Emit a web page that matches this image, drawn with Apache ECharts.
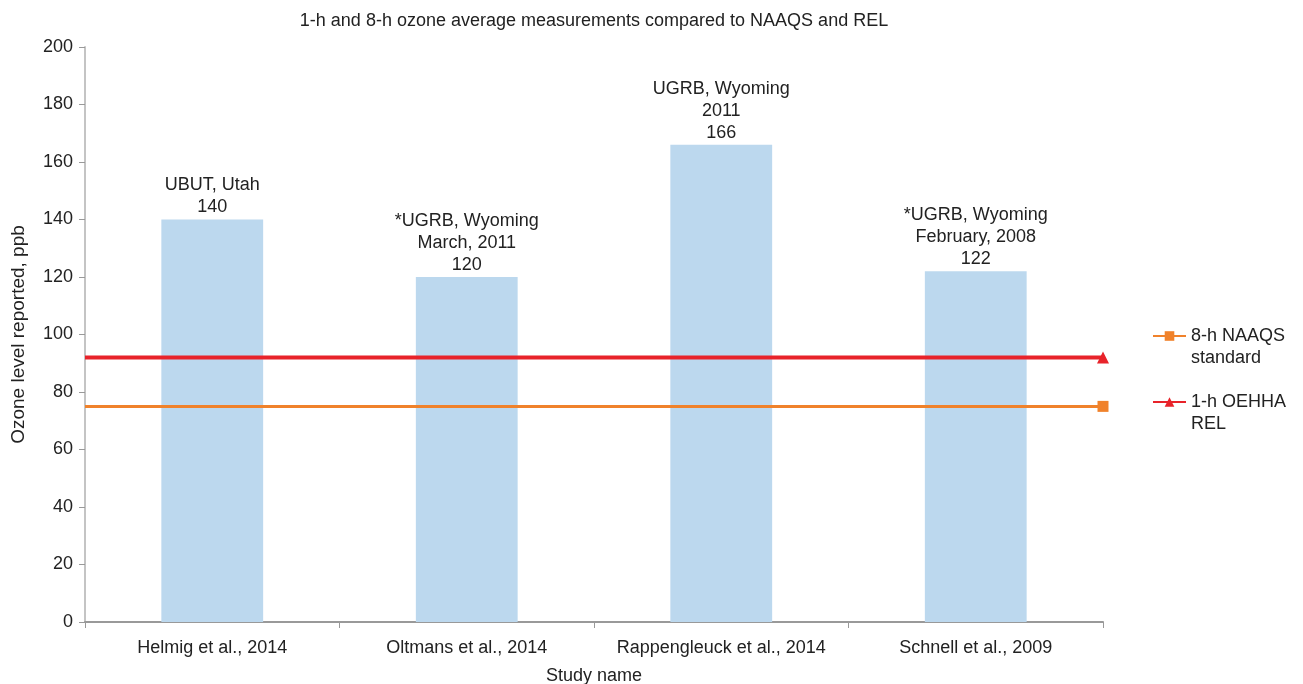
<!DOCTYPE html>
<html><head><meta charset="utf-8">
<script src="https://cdn.jsdelivr.net/npm/echarts@6/dist/echarts.min.js"></script>
<style>html,body{margin:0;padding:0;background:#fff}#c{width:1303px;height:684px}</style>
</head><body><div id="c"></div>
<script>
const categories = ["Helmig et al., 2014", "Oltmans et al., 2014", "Rappengleuck et al., 2014", "Schnell et al., 2009"];
const values = [140, 120, 166, 122];
const siteLabels = ["UBUT, Utah", "*UGRB, Wyoming\nMarch, 2011", "UGRB, Wyoming\n2011", "*UGRB, Wyoming\nFebruary, 2008"];
const naaqs8h = 75;
const oehha1h = 92;
const yTicks = [0, 20, 40, 60, 80, 100, 120, 140, 160, 180, 200];

const font = "Liberation Sans, Arial, sans-serif";
const chart = echarts.init(document.getElementById('c'));
chart.setOption({
  animation: false,
  textStyle: { fontFamily: font },
  title: {
    text: "1-h and 8-h ozone average measurements compared to NAAQS and REL",
    left: 589, top: 7, textAlign: 'center',
    textStyle: { fontSize: 18, fontWeight: 'normal', color: '#222', fontFamily: font }
  },
  legend: {
    orient: 'vertical', left: 1147, top: 298, itemGap: 0, itemWidth: 33, itemHeight: 12,
    textStyle: { fontSize: 18, color: '#222', lineHeight: 22, fontFamily: font },
    formatter: n => '\n' + n,
    data: ["8-h NAAQS\nstandard", "1-h OEHHA\nREL"]
  },
  grid: { left: 85, right: 200, top: 47, bottom: 62, outerBoundsMode: 'none', containLabel: false },
  xAxis: [{
    type: 'category', data: categories,
    name: 'Study name', nameLocation: 'middle', nameGap: 45,
    nameTextStyle: { fontSize: 18, color: '#222' },
    axisLine: { lineStyle: { color: '#999', width: 2 } },
    axisTick: { show: true, alignWithLabel: false, interval: 0, length: 6, lineStyle: { color: '#999' } },
    axisLabel: { fontSize: 18, color: '#222', margin: 17, interval: 0, hideOverlap: false }
  }, {
    type: 'value', min: 0, max: 1, show: false
  }],
  yAxis: {
    type: 'value', min: 0, max: 200, interval: 20,
    name: 'Ozone level reported, ppb', nameLocation: 'middle', nameGap: 57, nameRotate: 90,
    nameTextStyle: { fontSize: 19, color: '#222' },
    axisLine: { show: true, lineStyle: { color: '#c4c4c4', width: 2 } },
    axisTick: { show: true, length: 6, lineStyle: { color: '#999' } },
    axisLabel: { fontSize: 18, color: '#222', margin: 12 },
    splitLine: { show: false }
  },
  series: [{
    type: 'bar', data: values, barWidth: '40%',
    itemStyle: { color: '#bcd8ee' },
    label: {
      show: true, position: 'top', distance: 1, fontSize: 18, color: '#222', lineHeight: 22, align: 'center',
      formatter: p => siteLabels[p.dataIndex] + '\n' + p.value
    }
  }, {
    name: "8-h NAAQS\nstandard", type: 'line', xAxisIndex: 1,
    data: [{ value: [0, naaqs8h], symbol: 'none' }, { value: [1, naaqs8h] }],
    symbol: 'rect', symbolSize: 11,
    lineStyle: { color: '#f0822b', width: 3 }, itemStyle: { color: '#f0822b' }
  }, {
    name: "1-h OEHHA\nREL", type: 'line', xAxisIndex: 1,
    data: [{ value: [0, oehha1h], symbol: 'none' }, { value: [1, oehha1h] }],
    symbol: 'triangle', symbolSize: 12,
    lineStyle: { color: '#e8232a', width: 4 }, itemStyle: { color: '#e8232a' }
  }]
});
</script></body></html>
